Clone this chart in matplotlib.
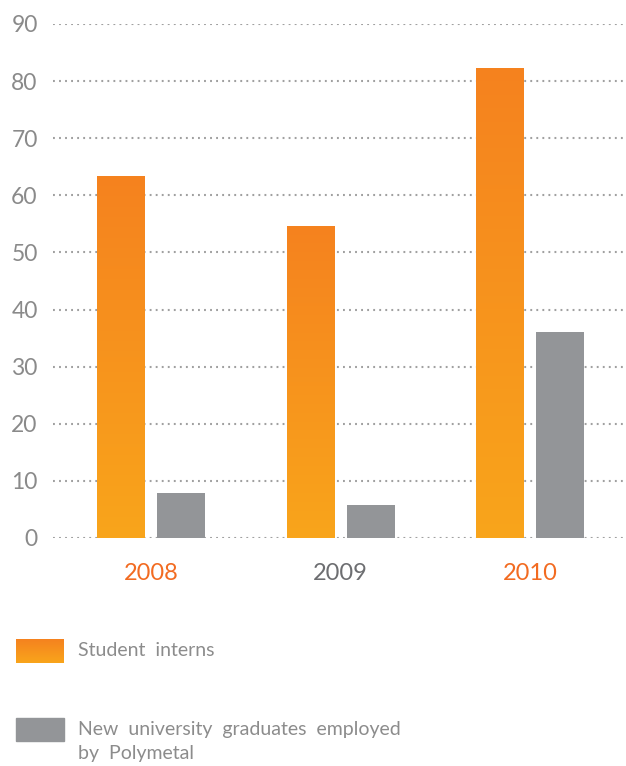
import numpy as np
import matplotlib
matplotlib.use("Agg")
import matplotlib.pyplot as plt
from matplotlib.colors import LinearSegmentedColormap

# данные
years = ["2008", "2009", "2010"]
interns = [63.4, 54.7, 82.3]
graduates = [7.9, 5.8, 36.1]
year_colors = ["#F26B21", "#6D6E71", "#F26B21"]
legend_labels = ["Student  interns", "New  university  graduates  employed\nby  Polymetal"]
yticks = [0, 10, 20, 30, 40, 50, 60, 70, 80, 90]

plt.rcParams['font.family'] = ['Lato', 'DejaVu Sans']

orange_top = "#F5821F"
orange_bot = "#F9A51B"
gray = "#939598"
cmap = LinearSegmentedColormap.from_list("org", [orange_bot, orange_top])
grad = np.linspace(0, 1, 256).reshape(-1, 1)

fig = plt.figure(figsize=(6.26, 7.66), dpi=100)
ax = fig.add_axes([53/626, 1-538/766, 1-53/626, (538-24)/766])

x = np.arange(len(years))
w = 48/189.5
off = 30/189.5

bars = ax.bar(x - off, interns, w, color=orange_top, zorder=2, linewidth=0)
ax.bar(x + off, graduates, w, color=gray, zorder=2, linewidth=0)

# градиент на оранжевых столбиках
for b in bars:
    x0, y0 = b.get_x(), b.get_y()
    im = ax.imshow(grad, cmap=cmap, origin="lower", aspect="auto",
                   extent=[x0, x0 + b.get_width(), y0, y0 + b.get_height()], zorder=3)
    im.set_clip_path(b)
ax.set_xlim(-98/189.5, 2 + (626-530)/189.5)
ax.set_ylim(0, 90)

for yv in yticks:
    ax.axhline(yv, color="#A0A0A0", lw=1.5, ls=(0, (0.9, 2.0)), zorder=1)

for s in ax.spines.values():
    s.set_visible(False)
ax.set_yticks(yticks)
ax.set_yticklabels([str(v) for v in yticks], fontsize=16.5, color="#8A8A8A")
ax.tick_params(axis="y", length=0, pad=11)
ax.set_xticks([])

for i, yr in enumerate(years):
    fig.text((151 + 189.5*i)/626, 1-573/766, yr, ha="center", va="center",
             fontsize=17, color=year_colors[i])

# легенда
lax = fig.add_axes([16/626, 1-663/766, 48/626, 24/766])
lax.imshow(grad, cmap=cmap, origin="lower", aspect="auto", extent=[0, 1, 0, 1])
lax.axis("off")
fig.patches.append(plt.Rectangle((16/626, 1-741/766), 48/626, 23/766,
                                 transform=fig.transFigure, color=gray))

fig.text(78/626, 1-650/766, legend_labels[0], ha="left", va="center",
         fontsize=14, color="#8C8C8C")
fig.text(78/626, 1-741/766, legend_labels[1], ha="left", va="center",
         fontsize=14, color="#8C8C8C", linespacing=1.5)

fig.savefig("out.png", dpi=100)
